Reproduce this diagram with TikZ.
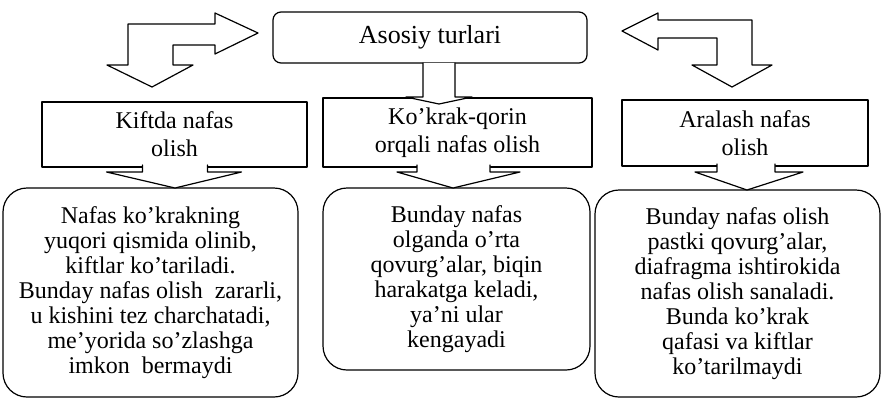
\documentclass[tikz,border=0pt]{standalone}
\usepackage{fontspec}
\setmainfont{Liberation Serif}
\usetikzlibrary{calc,positioning}
\tikzset{
  every picture/.append style={line cap=round,line join=round},
  tur top/.style={draw,rounded corners=4pt,line width=0.6pt,outer sep=0pt,
    minimum width=157pt,minimum height=25.5pt,font=\fontsize{13}{15}\selectfont},
  tur head/.style={draw,line width=0.6pt,outer sep=0pt,align=center,
    font=\fontsize{12}{14}\selectfont},
  tur note/.style={draw,rounded corners=12pt,line width=0.6pt,outer sep=0pt,
    align=center,font=\fontsize{12}{12.5}\selectfont},
  tur arrow/.style={draw,fill=white,line width=0.6pt},
  tur bend/.style={draw,line width=0.6pt}
}
\begin{document}
\begin{tikzpicture}[x=0.5pt,y=-0.5pt]
\useasboundingbox (0,0) rectangle (882,402);

\node[tur top] (top) at (430,37.5) {Asosiy turlari};

\node[tur head,minimum width=132.5pt,minimum height=32.5pt] (kift) at (174.5,134.5) {Kiftda nafas\\olish};
\node[tur head,minimum width=134.5pt,minimum height=34.5pt] (korin) at (457.5,132.5) {Ko'krak-qorin\\orqali nafas olish};
\node[tur head,minimum width=123pt,minimum height=33pt] (aral) at (745,133) {Aralash nafas\\olish};

\node[tur note,minimum width=147.5pt,minimum height=104.5pt] (kiftnote) at (150.5,292.5) {
Nafas ko'krakning\\
yuqori qismida olinib,\\
kiftlar ko'tariladi.\\
Bunday nafas olish \ zararli,\\
u kishini tez charchatadi,\\
me'yorida so'zlashga\\
imkon \ bermaydi};
\node[tur note,minimum width=133.5pt,minimum height=91pt] (korinnote) at (456.5,279) {
Bunday nafas\\
olganda o'rta\\
qovurg'alar, biqin\\
harakatga keladi,\\
ya'ni ular\\
kengayadi};
\node[tur note,minimum width=142.5pt,minimum height=103.5pt] (aralnote) at (737.5,293.5) {
Bunday nafas olish\\
pastki qovurg'alar,\\
diafragma ishtirokida\\
nafas olish sanaladi.\\
Bunda ko'krak\\
qafasi va kiftlar\\
ko'tarilmaydi};

% bent arrows beside the top box
\draw[tur bend] (152,87) -- (193,65) -- (173,65) -- (173,45) -- (215,45) -- (215,54)
  -- (258,33) -- (215,13) -- (215,24) -- (128,24) -- (128,65) -- (107,65) -- cycle;
\draw[tur bend] (732,87) -- (772,65) -- (752,65) -- (752,20) -- (658,20) -- (658,13)
  -- (622,31) -- (658,50) -- (658,38) -- (717,38) -- (717,65) -- (692,65) -- cycle;

% block arrows
\draw[tur arrow] ($(top.south)+(-7,0)$) -- ++(0,34) -- ++(-17,0) -- ++(33,7)
  -- ++(33,-7) -- ++(-17,0) -- ++(0,-34);
\draw[tur arrow] ($(kift.south)+(-32,-2)$) -- ++(0,7) -- ++(-36,0) -- ++(68.5,16)
  -- ++(66.5,-16) -- ++(-34,0) -- ++(0,-7);
\draw[tur arrow] ($(korin.south)+(-40.5,-2)$) -- ++(0,7) -- ++(-20,0) -- ++(56,16)
  -- ++(67,-16) -- ++(-30,0) -- ++(0,-7);
\draw[tur arrow] ($(aral.south)+(-28,-2)$) -- ++(0,8) -- ++(-22,0) -- ++(52,18)
  -- ++(56,-18) -- ++(-28,0) -- ++(0,-8);
\end{tikzpicture}
\end{document}
